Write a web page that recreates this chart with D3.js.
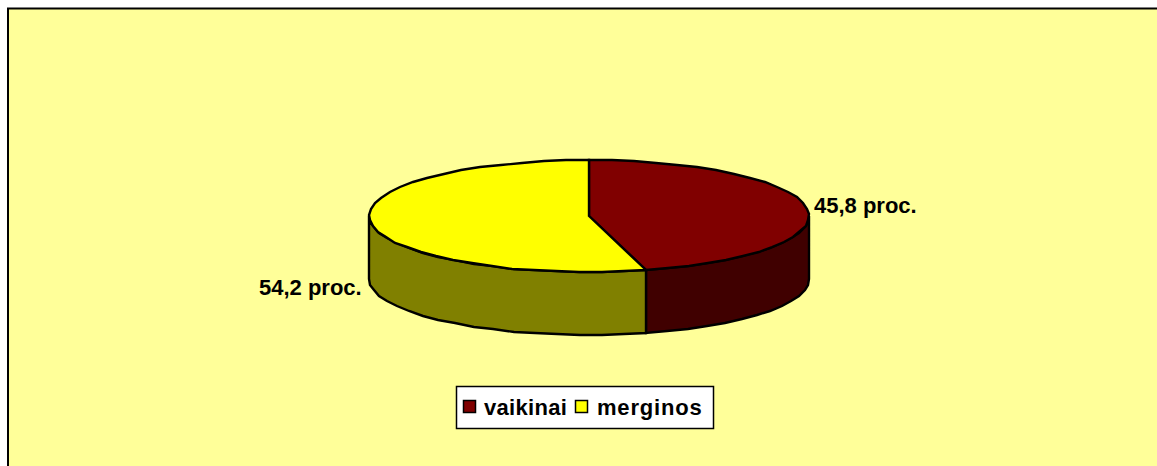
<!DOCTYPE html>
<html><head><meta charset="utf-8">
<script src="https://cdn.jsdelivr.net/npm/d3@7"></script>
<style>html,body{margin:0;padding:0;background:#fff}svg{display:block}text{font-family:"Liberation Sans",Arial,sans-serif;font-weight:bold;fill:#000;font-size:22px}</style>
</head><body><svg id="c" width="1157" height="466"></svg>
<script>
const categories = ["vaikinai", "merginos"];
const values = [45.8, 54.2];
const labels = ["45,8 proc.", "54,2 proc."];
const topColors = ["#800000", "#ffff00"];
const sideColors = ["#400000", "#808000"];

const W = 1157, H = 466;
const svg = d3.select("#c");
svg.append("rect").attr("width", W).attr("height", H).attr("fill", "#fff");
svg.append("rect").attr("x", 8).attr("y", 8.5).attr("width", W + 20).attr("height", H + 20)
  .attr("fill", "#ffff99").attr("stroke", "#000").attr("stroke-width", 2);

const cx = 589, cy = 216, rx = 220, ry = 56, depth = 63;
const px = d3.scaleLinear().domain([-1, 1]).range([cx - rx, cx + rx]);
const py = d3.scaleLinear().domain([-1, 1]).range([cy - ry, cy + ry]);
const pt = (a, dz = 0) => [Math.round(px(Math.sin(a))), Math.round(py(-Math.cos(a))) + dz];
const arcPts = (a0, a1, dz = 0) => {
  const n = Math.max(2, Math.ceil((a1 - a0) / (Math.PI / 30)));
  return d3.range(n + 1).map(i => pt(a0 + (a1 - a0) * i / n, dz));
};
const line = d3.line();
const arcs = d3.pie().sort(null)(values);
const front0 = Math.PI / 2, front1 = 3 * Math.PI / 2;

arcs.forEach((d, i) => {
  const a0 = Math.max(d.startAngle, front0), a1 = Math.min(d.endAngle, front1);
  if (a1 <= a0) return;
  const pts = arcPts(a0, a1).concat(arcPts(a0, a1, depth).reverse());
  svg.append("path").attr("d", line(pts) + "Z").attr("fill", sideColors[i])
    .attr("stroke", "#000").attr("stroke-width", 2.4).attr("stroke-linejoin", "miter");
});
arcs.forEach((d, i) => {
  const pts = [[cx, cy]].concat(arcPts(d.startAngle, d.endAngle));
  svg.append("path").attr("d", line(pts) + "Z").attr("fill", topColors[i])
    .attr("stroke", "#000").attr("stroke-width", 2.4).attr("stroke-linejoin", "miter");
});

svg.append("text").attr("x", 814).attr("y", 213).text(labels[0]);
svg.append("text").attr("x", 259).attr("y", 295).text(labels[1]);

svg.append("rect").attr("x", 456.5).attr("y", 386.5).attr("width", 257).attr("height", 42)
  .attr("fill", "#fff").attr("stroke", "#000").attr("stroke-width", 1.5);
const lx = [463, 575], tx = [484, 597], spacing = [0.3, 0.8];
categories.forEach((c, i) => {
  svg.append("rect").attr("x", lx[i] + .5).attr("y", 400.5).attr("width", 12).attr("height", 12)
    .attr("fill", topColors[i]).attr("stroke", "#000").attr("stroke-width", 1.5);
  svg.append("text").attr("x", tx[i]).attr("y", 415).attr("letter-spacing", spacing[i]).text(c);
});
</script></body></html>
